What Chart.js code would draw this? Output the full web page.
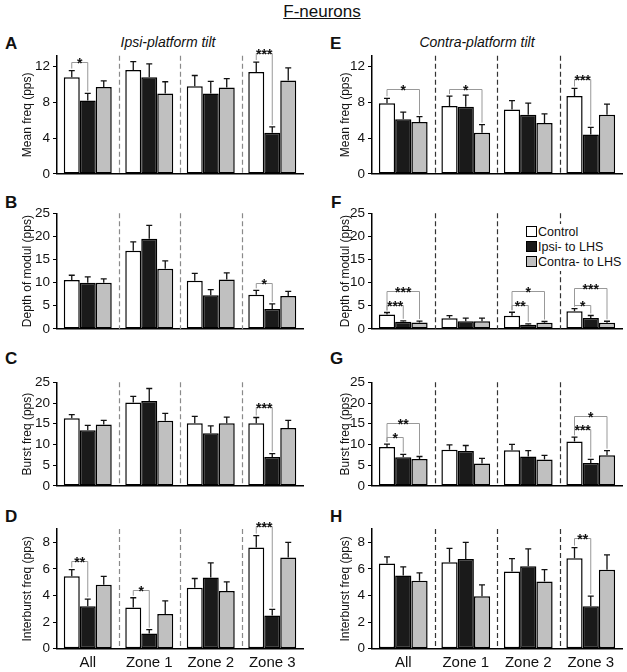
<!DOCTYPE html>
<html>
<head>
<meta charset="utf-8">
<script src="https://cdn.jsdelivr.net/npm/chart.js@4.4.0/dist/chart.umd.min.js"></script>
<style>
  body { margin: 0; background: #fff; font-family: "Liberation Sans", Arial, sans-serif; }
  #wrap { position: relative; width: 627px; height: 672px; overflow: hidden; background: #fff; }
  canvas { position: absolute; }
  .letter { position: absolute; font-weight: bold; font-size: 17px; line-height: 17px; color: #111; }
  .sub { position: absolute; font-style: italic; font-size: 14px; line-height: 14px; color: #111; transform: translateX(-50%); white-space: nowrap; }
  #title { position: absolute; left: 322px; top: 3px; transform: translateX(-50%); font-size: 17px; line-height: 17px; text-decoration: underline; color: #111; }
  #legend { position: absolute; left: 524px; top: 224px; width: 98px; background: #fff; z-index: 5; font-size: 12.5px; color: #111; padding: 1px 0; }
  #legend div { height: 15px; line-height: 15px; white-space: nowrap; }
  #legend span { display: inline-block; width: 9px; height: 9px; border: 1px solid #000; vertical-align: -1px; margin: 0 1px 0 2px; }
</style>
</head>
<body>
<div id="wrap">
  <div id="title">F-neurons</div>
  <div class="sub" style="left:168px;top:35px;">Ipsi-platform tilt</div>
  <div class="sub" style="left:477px;top:35px;">Contra-platform tilt</div>
  <div class="letter" style="left:5px;top:35px;">A</div>
  <div class="letter" style="left:5px;top:194px;">B</div>
  <div class="letter" style="left:5px;top:350px;">C</div>
  <div class="letter" style="left:5px;top:508px;">D</div>
  <div class="letter" style="left:330px;top:35px;">E</div>
  <div class="letter" style="left:331px;top:194px;">F</div>
  <div class="letter" style="left:330px;top:350px;">G</div>
  <div class="letter" style="left:330px;top:508px;">H</div>
  <div id="legend"></div>
</div>
<script>
// categories and series
const zones = ['All', 'Zone 1', 'Zone 2', 'Zone 3'];
const seriesNames = ['Control', 'Ipsi- to LHS', 'Contra- to LHS'];
const seriesColors = ['#ffffff', '#1a1a1a', '#c0c0c0'];

// A - mean freq, ipsi-platform tilt
const meanIpsiCtrl = [10.8, 11.6, 9.8, 11.4];
const meanIpsiCtrlSem = [0.75, 0.95, 1.2, 1.1];
const meanIpsiIpsi = [8.2, 10.8, 9.0, 4.6];
const meanIpsiIpsiSem = [0.8, 1.5, 1.35, 0.65];
const meanIpsiContra = [9.7, 9.0, 9.65, 10.45];
const meanIpsiContraSem = [0.7, 1.3, 1.0, 1.4];
const meanIpsiSig = [[0, 0, 1, 12.5, '*'], [3, 0, 1, 13.5, '***']];

// E - mean freq, contra-platform tilt
const meanContraCtrl = [7.9, 7.6, 7.2, 8.7];
const meanContraCtrlSem = [0.55, 1.1, 1.0, 0.85];
const meanContraIpsi = [6.1, 7.5, 6.6, 4.4];
const meanContraIpsiSem = [0.8, 1.3, 1.3, 0.8];
const meanContraContra = [5.8, 4.6, 5.7, 6.6];
const meanContraContraSem = [0.6, 0.9, 1.0, 1.2];
const meanContraSig = [[0, 0, 2, 9.5, '*'], [1, 0, 2, 9.5, '*'], [3, 0, 1, 10.6, '***']];

// B - depth of modulation, ipsi
const depthIpsiCtrl = [10.6, 16.9, 10.4, 7.4];
const depthIpsiCtrlSem = [1.0, 1.9, 1.6, 0.95];
const depthIpsiIpsi = [10.0, 19.5, 7.3, 4.3];
const depthIpsiIpsiSem = [1.25, 2.9, 1.2, 1.1];
const depthIpsiContra = [10.0, 13.0, 10.7, 7.1];
const depthIpsiContraSem = [0.8, 1.7, 1.4, 1.0];
const depthIpsiSig = [[3, 0, 1, 9.9, '*']];

// F - depth of modulation, contra
const depthContraCtrl = [3.1, 2.3, 2.85, 3.8];
const depthContraCtrlSem = [0.45, 0.55, 0.75, 0.6];
const depthContraIpsi = [1.55, 1.65, 0.9, 2.35];
const depthContraIpsiSem = [0.2, 0.7, 0.2, 0.55];
const depthContraContra = [1.4, 1.65, 1.35, 1.35];
const depthContraContraSem = [0.3, 0.7, 0.25, 0.3];
const depthContraSig = [[0, 0, 1, 5.1, '***'], [0, 0, 2, 8.1, '***'], [2, 0, 1, 5.2, '**'], [2, 0, 2, 8.1, '*'], [3, 0, 1, 5.2, '*'], [3, 0, 2, 8.8, '***']];

// C - burst freq, ipsi
const burstIpsiCtrl = [16.3, 20.1, 15.1, 15.1];
const burstIpsiCtrlSem = [0.9, 1.5, 1.7, 1.4];
const burstIpsiIpsi = [13.4, 20.5, 12.7, 7.0];
const burstIpsiIpsiSem = [1.2, 3.0, 1.8, 0.8];
const burstIpsiContra = [14.8, 15.7, 15.1, 14.0];
const burstIpsiContraSem = [1.0, 1.8, 1.5, 1.8];
const burstIpsiSig = [[3, 0, 1, 19.0, '***']];

// G - burst freq, contra
const burstContraCtrl = [9.4, 8.75, 8.6, 10.7];
const burstContraCtrlSem = [0.7, 1.15, 1.4, 1.05];
const burstContraIpsi = [6.9, 8.4, 7.1, 5.5];
const burstContraIpsiSem = [0.7, 1.35, 1.4, 0.9];
const burstContraContra = [6.5, 5.4, 6.35, 7.4];
const burstContraContraSem = [0.6, 1.25, 1.0, 1.1];
const burstContraSig = [[0, 0, 1, 11.9, '*'], [0, 0, 2, 15.2, '**'], [3, 0, 1, 13.8, '***'], [3, 0, 2, 16.9, '*']];

// D - interburst freq, ipsi
const interIpsiCtrl = [5.45, 3.1, 4.58, 7.6];
const interIpsiCtrlSem = [0.5, 0.73, 0.7, 0.9];
const interIpsiIpsi = [3.2, 1.15, 5.36, 2.5];
const interIpsiIpsiSem = [0.53, 0.28, 1.1, 0.46];
const interIpsiContra = [4.81, 2.6, 4.33, 6.86];
const interIpsiContraSem = [0.63, 1.0, 0.7, 1.14];
const interIpsiSig = [[0, 0, 1, 6.6, '**'], [1, 0, 1, 4.44, '*'], [3, 0, 1, 9.2, '***']];

// H - interburst freq, contra
const interContraCtrl = [6.4, 6.5, 5.8, 6.8];
const interContraCtrlSem = [0.5, 1.05, 0.97, 0.8];
const interContraIpsi = [5.5, 6.75, 6.2, 3.2];
const interContraIpsiSem = [0.65, 1.25, 1.3, 0.76];
const interContraContra = [5.1, 3.95, 5.05, 5.93];
const interContraContraSem = [0.6, 0.85, 0.9, 1.13];
const interContraSig = [[3, 0, 1, 8.3, '**']];

// axis settings per row
const yTitles = ['Mean freq (pps)', 'Depth of modul (pps)', 'Burst freq (pps)', 'Interburst freq (pps)'];
const yMax = [13.2, 25, 25, 9];
const yStep = [4, 5, 5, 2];

const FONT = '"Liberation Sans", Arial, sans-serif';

// page geometry (canvas box + plot area)
const cols = [
  { left: 0, width: 310, areaLeft: 57, areaRight: 303, titleOff: 20, dash: '#8a8a8a' },
  { left: 310, width: 317, areaLeft: 372, areaRight: 622, titleOff: 28, dash: '#333' }
];
const rows = [
  { top: 28, bottom: 185, areaTop: 55.8, areaBottom: 175.7 },
  { top: 190, bottom: 340, areaTop: 213.3, areaBottom: 333.3 },
  { top: 345, bottom: 497, areaTop: 382.3, areaBottom: 490 },
  { top: 505, bottom: 672, areaTop: 529, areaBottom: 648.7 }
];

function extrasPlugin(sems, sig, dashColor) {
  return {
    id: 'extras',
    afterDatasetsDraw(chart) {
      const ctx = chart.ctx, xs = chart.scales.x, ys = chart.scales.y, a = chart.chartArea;
      ctx.save();
      // dashed zone separators
      ctx.strokeStyle = dashColor;
      ctx.lineWidth = 1.2;
      ctx.setLineDash([5, 3]);
      for (let i = 0; i < zones.length - 1; i++) {
        const x = Math.round((xs.getPixelForTick(i) + xs.getPixelForTick(i + 1)) / 2) + 0.5;
        ctx.beginPath();
        ctx.moveTo(x, a.top);
        ctx.lineTo(x, a.bottom);
        ctx.stroke();
      }
      ctx.setLineDash([]);
      // error bars (upper only)
      ctx.strokeStyle = '#111';
      ctx.lineWidth = 1.3;
      chart.data.datasets.forEach((ds, d) => {
        chart.getDatasetMeta(d).data.forEach((el, i) => {
          const yTop = ys.getPixelForValue(ds.data[i] + sems[d][i]);
          ctx.beginPath();
          ctx.moveTo(el.x, el.y);
          ctx.lineTo(el.x, yTop);
          ctx.moveTo(el.x - 3, yTop);
          ctx.lineTo(el.x + 3, yTop);
          ctx.stroke();
        });
      });
      // significance brackets
      sig.forEach(([g, s1, s2, level, stars]) => {
        const e1 = chart.getDatasetMeta(s1).data[g];
        const e2 = chart.getDatasetMeta(s2).data[g];
        const d1 = chart.data.datasets[s1].data[g] + sems[s1][g];
        const d2 = chart.data.datasets[s2].data[g] + sems[s2][g];
        const y = Math.round(ys.getPixelForValue(level)) + 0.5;
        ctx.strokeStyle = '#999';
        ctx.lineWidth = 1;
        ctx.beginPath();
        ctx.moveTo(e1.x, ys.getPixelForValue(d1) - 2);
        ctx.lineTo(e1.x, y);
        ctx.lineTo(e2.x, y);
        ctx.lineTo(e2.x, ys.getPixelForValue(d2) - 2);
        ctx.stroke();
        ctx.fillStyle = '#111';
        ctx.font = 'bold 14px ' + FONT;
        ctx.textAlign = 'center';
        ctx.textBaseline = 'alphabetic';
        ctx.fillText(stars, (e1.x + e2.x) / 2, y + 5);
      });
      ctx.restore();
    }
  };
}

function makePanel(col, row, values, sems, sig) {
  const c = cols[col], r = rows[row];
  const cv = document.createElement('canvas');
  const h = r.bottom - r.top;
  cv.width = c.width;
  cv.height = h;
  cv.style.left = c.left + 'px';
  cv.style.top = r.top + 'px';
  cv.style.width = c.width + 'px';
  cv.style.height = h + 'px';
  document.getElementById('wrap').appendChild(cv);

  const showX = row === 3;
  new Chart(cv.getContext('2d'), {
    type: 'bar',
    data: {
      labels: zones,
      datasets: values.map((v, d) => ({
        label: seriesNames[d],
        data: v,
        backgroundColor: seriesColors[d],
        borderColor: '#000',
        borderWidth: 1.5,
        borderSkipped: false,
        categoryPercentage: 0.78,
        barPercentage: 1
      }))
    },
    options: {
      responsive: false,
      animation: false,
      devicePixelRatio: 1,
      layout: { padding: { top: r.areaTop - r.top, right: c.left + c.width - c.areaRight, left: 0, bottom: 0 } },
      plugins: { legend: { display: false }, tooltip: { enabled: false } },
      scales: {
        x: {
          grid: { display: true, drawOnChartArea: false, drawTicks: false },
          border: { color: '#000', width: 1.5 },
          ticks: { display: showX, color: '#111', font: { family: FONT, size: 15 }, padding: 5 },
          afterFit: s => { s.height = r.bottom - r.areaBottom; }
        },
        y: {
          min: 0,
          max: yMax[row],
          ticks: { stepSize: yStep[row], includeBounds: false, color: '#111', font: { family: FONT, size: 13.5 }, padding: 3 },
          grid: { drawOnChartArea: false, drawTicks: true, tickLength: 4, color: '#000', lineWidth: 1 },
          border: { color: '#000', width: 1.5 },
          title: { display: true, text: yTitles[row], color: '#111', font: { family: FONT, size: 12 }, padding: { top: c.titleOff, bottom: 0 } },
          afterFit: s => { s.width = c.areaLeft - c.left; }
        }
      }
    },
    plugins: [extrasPlugin(sems, sig, c.dash)]
  });
}

makePanel(0, 0, [meanIpsiCtrl, meanIpsiIpsi, meanIpsiContra], [meanIpsiCtrlSem, meanIpsiIpsiSem, meanIpsiContraSem], meanIpsiSig);
makePanel(1, 0, [meanContraCtrl, meanContraIpsi, meanContraContra], [meanContraCtrlSem, meanContraIpsiSem, meanContraContraSem], meanContraSig);
makePanel(0, 1, [depthIpsiCtrl, depthIpsiIpsi, depthIpsiContra], [depthIpsiCtrlSem, depthIpsiIpsiSem, depthIpsiContraSem], depthIpsiSig);
makePanel(1, 1, [depthContraCtrl, depthContraIpsi, depthContraContra], [depthContraCtrlSem, depthContraIpsiSem, depthContraContraSem], depthContraSig);
makePanel(0, 2, [burstIpsiCtrl, burstIpsiIpsi, burstIpsiContra], [burstIpsiCtrlSem, burstIpsiIpsiSem, burstIpsiContraSem], burstIpsiSig);
makePanel(1, 2, [burstContraCtrl, burstContraIpsi, burstContraContra], [burstContraCtrlSem, burstContraIpsiSem, burstContraContraSem], burstContraSig);
makePanel(0, 3, [interIpsiCtrl, interIpsiIpsi, interIpsiContra], [interIpsiCtrlSem, interIpsiIpsiSem, interIpsiContraSem], interIpsiSig);
makePanel(1, 3, [interContraCtrl, interContraIpsi, interContraContra], [interContraCtrlSem, interContraIpsiSem, interContraContraSem], interContraSig);

// legend (panel F)
const legend = document.getElementById('legend');
seriesNames.forEach((n, i) => {
  const row = document.createElement('div');
  const sw = document.createElement('span');
  sw.style.background = seriesColors[i];
  row.appendChild(sw);
  row.appendChild(document.createTextNode(n));
  legend.appendChild(row);
});
</script>
</body>
</html>
